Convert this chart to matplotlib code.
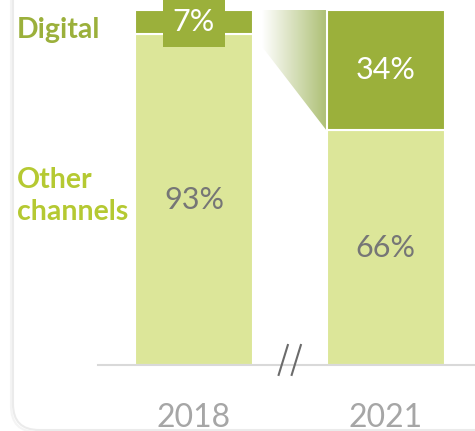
import numpy as np
import matplotlib

matplotlib.use("Agg")
import matplotlib.pyplot as plt
from matplotlib.patches import FancyBboxPatch, Polygon, Rectangle
from matplotlib.colors import LinearSegmentedColormap
from matplotlib.transforms import IdentityTransform

years = ["2018", "2021"]
digital = [7, 34]
other = [93, 66]

DARK = "#9bb03b"
LIGHT = "#dce699"
OTHER_TXT = "#b5c932"
GREY_LBL = "#767676"
YEAR_CLR = "#a6a6a6"
FONT = "Lato"

plt.rcParams.update({"font.family": [FONT, "DejaVu Sans"]})

W, H = 475, 431
# +0.4 px so the float size does not round down to 430 rows
fig = plt.figure(figsize=(W / 100, (H + 0.4) / 100), dpi=100)

# card with faint shadow behind everything
for off, ec in [(2, "#f4f4f4"), (0, "#ebebeb")]:
    card = FancyBboxPatch((13 - off, 1 - off), 600, 520, boxstyle="round,pad=0,rounding_size=26",
                          transform=IdentityTransform(), fc="white", ec=ec, lw=1.5, zorder=-1)
    fig.patches.append(card)

# axes placed so bars land where the original has them (pixel layout)
ax = fig.add_axes([98 / W, (H - 365) / H, (W - 98) / W, 355 / H])
ax.set_zorder(1)
ax.set_facecolor("none")
x = np.arange(len(years))
bw = 0.616
ax.bar(x, other, bw, color=LIGHT, edgecolor="white", linewidth=1.5, zorder=2)
ax.bar(x, digital, bw, bottom=other, color=DARK, edgecolor="white", linewidth=1.5, zorder=2)
ax.set_xlim(-0.501, 1.467)
ax.set_ylim(0, 100)

# label tab behind the small 2018 value, and the connector starting from it
tab_w = 0.324
tab_bot = 89.6
ax.add_patch(Rectangle((x[0] - tab_w / 2, tab_bot), tab_w, 15, fc=DARK, ec="none",
                       zorder=3, clip_on=False))

x_left = 0.355
x_right = 1 - bw / 2
poly = Polygon([(x_left, 100), (x_right, 100), (x_right, other[1]), (x_left, tab_bot)],
               closed=True, fc="none", ec="none")
ax.add_patch(poly)
cmap = LinearSegmentedColormap.from_list("g", ["#ffffff", "#adbf74"])
grad = np.linspace(0, 1, 256).reshape(1, -1)
im = ax.imshow(grad, cmap=cmap, extent=[x_left, x_right, other[1], 100], aspect="auto",
               zorder=1, interpolation="bilinear")
im.set_clip_path(poly)

# value labels
for i in range(len(years)):
    ax.text(x[i], other[i] / 2, f"{other[i]}%", ha="center", va="center", fontsize=22,
            color=GREY_LBL, zorder=4)
    ax.text(x[i], other[i] + digital[i] / 2, f"{digital[i]}%", ha="center", va="center",
            fontsize=22, color="white", zorder=5)

# axis break marks
for dx in (-0.034, 0.034):
    ax.plot([0.5 + dx - 0.024, 0.5 + dx + 0.024], [-2.8, 5.6], color="#6b6b6b", lw=1.5,
            clip_on=False, zorder=6)

for s in ("top", "right", "left"):
    ax.spines[s].set_visible(False)
ax.spines["bottom"].set_color("#d9d9d9")
ax.spines["bottom"].set_linewidth(1.5)
ax.set_yticks([])
ax.set_xticks(x)
ax.set_xticklabels(years, fontsize=23, color=YEAR_CLR)
ax.tick_params(axis="x", length=0, pad=27)

fig.text(17 / W, 1 - 30 / H, "Digital", fontsize=20.5, fontweight="bold", color=DARK,
         ha="left", va="center")
fig.text(17 / W, 1 - 180 / H, "Other", fontsize=20.5, fontweight="bold", color=OTHER_TXT,
         ha="left", va="center")
fig.text(17 / W, 1 - 212 / H, "channels", fontsize=20.5, fontweight="bold", color=OTHER_TXT,
         ha="left", va="center")

fig.savefig("out.png", dpi=100)
